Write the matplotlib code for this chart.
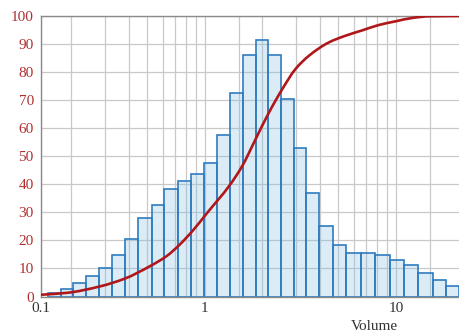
import matplotlib
matplotlib.use("Agg")
import matplotlib.pyplot as plt
from matplotlib.path import Path
from matplotlib.patches import PathPatch
import numpy as np

# ---- data ----
bin_edges = [0.151, 0.176, 0.204, 0.238, 0.279, 0.325, 0.381, 0.447, 0.526, 0.612,
             0.720, 0.845, 0.988, 1.160, 1.352, 1.581, 1.843, 2.145, 2.509, 2.924,
             3.392, 3.954, 4.680, 5.494, 6.537, 7.765, 9.269, 11.01, 13.09, 15.62,
             18.34, 21.37]
bar_heights = [1.3, 2.8, 4.7, 7.3, 10.2, 14.8, 20.4, 28.1, 32.6, 38.5,
               41.2, 43.6, 47.7, 57.5, 72.6, 86.1, 91.4, 86.1, 70.4, 53.1,
               37.0, 25.1, 18.2, 15.6, 15.6, 14.8, 12.9, 11.1, 8.5, 5.8, 3.7]

cdf_x = [0.137, 0.189, 0.282, 0.381, 0.515, 0.630, 0.740, 0.869, 1.021, 1.352,
         1.567, 1.842, 2.164, 2.539, 2.98, 3.50, 4.46, 5.46, 6.68, 8.15,
         9.96, 12.17, 14.9, 21.4]
cdf_y = [0.6, 1.3, 3.6, 6.4, 10.8, 14.4, 18.6, 23.7, 29.6, 39.8,
         46.5, 56.1, 65.6, 73.9, 81.1, 85.8, 90.6, 93.0, 94.9, 96.8,
         98.1, 99.3, 99.9, 100.0]

x_tick_vals = [0.138, 1, 10]
x_tick_labels = ["0.1", "1", "10"]
x_grid_vals = [0.2, 0.3, 0.4, 0.5, 0.6, 0.7, 0.8, 0.9, 1.5, 2, 3, 4, 5, 6, 7, 8, 9, 15]
y_ticks = [0, 10, 20, 30, 40, 50, 60, 70, 80, 90, 100]
x_label = "Volume"

plt.rcParams['font.family'] = ['Liberation Serif', 'DejaVu Serif']

fig = plt.figure(figsize=(4.59, 3.33), dpi=100)
ax = fig.add_axes([40.7 / 459, 36.5 / 333, (459 - 40.7) / 459, 280.5 / 333])

edges = np.array(bin_edges)
ax.bar(edges[:-1], bar_heights, width=np.diff(edges), align='edge',
       facecolor=(123/255, 187/255, 227/255, 0.27), edgecolor='#2f7cbf',
       linewidth=1.2, zorder=2)


def smooth_path(xs, ys):
    """Monotone cubic Bezier path through the read points (in log-x space)."""
    u = np.log10(np.asarray(xs, float))
    y = np.asarray(ys, float)
    h = np.diff(u)
    d = np.diff(y) / h
    n = len(u)
    m = np.zeros(n)
    m[0], m[-1] = d[0], d[-1]
    for k in range(1, n - 1):
        if d[k - 1] * d[k] <= 0:
            m[k] = 0.0
        else:
            w1 = 2 * h[k] + h[k - 1]
            w2 = h[k] + 2 * h[k - 1]
            m[k] = (w1 + w2) / (w1 / d[k - 1] + w2 / d[k])
    verts = [(10 ** u[0], y[0])]
    codes = [Path.MOVETO]
    for k in range(n - 1):
        c1 = (10 ** (u[k] + h[k] / 3), y[k] + m[k] * h[k] / 3)
        c2 = (10 ** (u[k + 1] - h[k] / 3), y[k + 1] - m[k + 1] * h[k] / 3)
        verts += [c1, c2, (10 ** u[k + 1], y[k + 1])]
        codes += [Path.CURVE4] * 3
    return Path(verts, codes)


curve = PathPatch(smooth_path(cdf_x, cdf_y), facecolor='none', edgecolor='#b0171b',
                  linewidth=1.9, zorder=3, transform=ax.transData, capstyle='round')
ax.add_patch(curve)

ax.set_xscale('log')
ax.set_xlim(0.138, 21.4)
ax.set_ylim(0, 100)

ax.set_xticks(x_tick_vals)
ax.set_xticklabels(x_tick_labels)
ax.set_xticks(x_grid_vals, minor=True)
ax.xaxis.set_minor_formatter(matplotlib.ticker.NullFormatter())
ax.set_yticks(y_ticks)

ax.grid(True, which='both', color='#c9c9c9', linewidth=0.9, zorder=0)
ax.set_axisbelow(True)

ax.tick_params(axis='both', which='both', length=0)
ax.tick_params(axis='y', colors='#b03030', labelsize=11, pad=5)
ax.tick_params(axis='x', colors='#333333', labelsize=11, pad=4)

for side in ['left', 'top', 'bottom']:
    ax.spines[side].set_color('#8a8a8a')
    ax.spines[side].set_linewidth(1.0)
ax.spines['right'].set_visible(False)

ax.set_xlabel(x_label, fontsize=11, color='#333333')
ax.xaxis.set_label_coords(0.797, -0.085)

fig.savefig("out.png", dpi=100)
